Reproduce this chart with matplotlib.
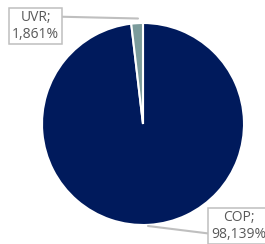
import matplotlib.pyplot as plt

# data
labels = ['COP', 'UVR']
shares = [98.139, 1.861]
colors = ['#001A5C', '#7B9B9B']

W, H = 265, 244
cx, cy, r = 143, 124, 101   # pie centre / radius in pixels (from top)

fig = plt.figure(figsize=(W / 100, H / 100), dpi=100)
ax = fig.add_axes([(cx - r) / W, (H - cy - r) / H, 2 * r / W, 2 * r / H])

wedges, _ = ax.pie(shares, colors=colors, startangle=90, counterclock=False,
                   wedgeprops=dict(edgecolor='white', linewidth=1.5))
ax.set_xlim(-1, 1)
ax.set_ylim(-1, 1)
ax.axis('off')


def px(x, y):
    # pixel position -> data coords
    return (x - cx) / r, (cy - y) / r


# label placement (pixels), leader end point (pixels), relpos on the box
spots = {
    'UVR': ((35.5, 26), (138, 18.5), (1.0, 0.8)),
    'COP': ((238.5, 226), (148, 226), (0.0, 0.25)),
}

for lab, val in zip(labels, shares):
    txt_xy, tip_xy, rel = spots[lab]
    s = lab + ';\n' + ('%.3f' % val).replace('.', ',') + '%'
    ax.annotate(s, xy=px(*tip_xy), xytext=px(*txt_xy),
                ha='center', va='center', fontsize=10, color='#595959',
                family='Open Sans', linespacing=1.1,
                bbox=dict(boxstyle='square,pad=0.2', fc='white', ec='#BFBFBF', lw=1.1),
                arrowprops=dict(arrowstyle='-', color='#BFBFBF', lw=1.5,
                                relpos=rel, shrinkA=0, shrinkB=0),
                annotation_clip=False)

fig.savefig('out.png', dpi=100)
